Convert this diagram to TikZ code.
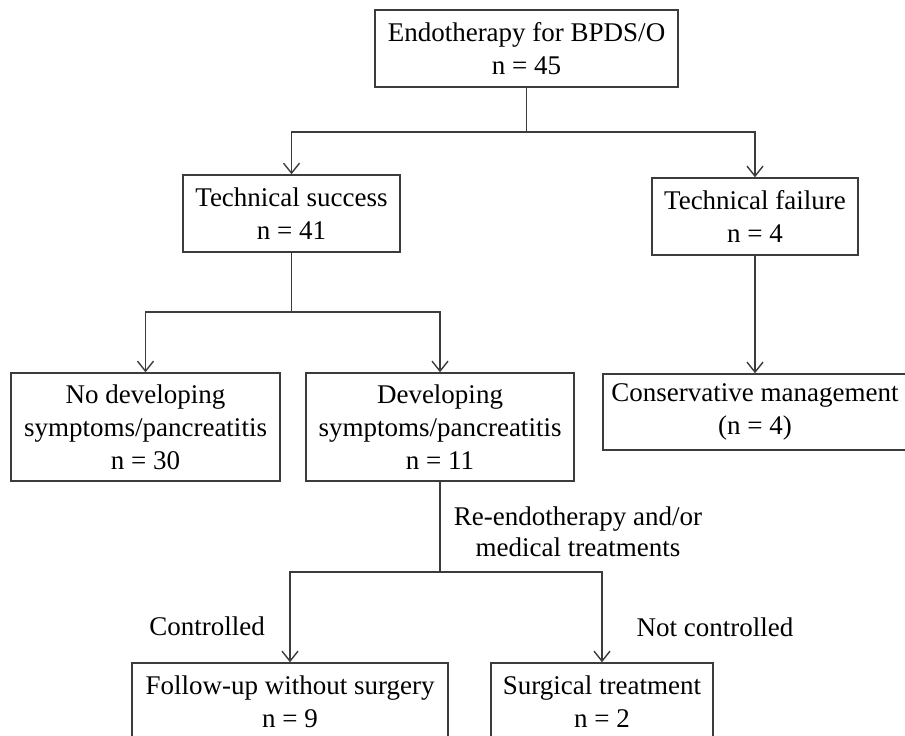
\documentclass[tikz,border=0pt]{standalone}
\usepackage{fontspec}
\setmainfont{Liberation Serif}
\usetikzlibrary{arrows.meta,positioning,calc}
\definecolor{linegray}{RGB}{60,60,60}

\begin{document}
\begin{tikzpicture}[
  x=1pt, y=-1pt,
  box/.style={rectangle, draw=linegray, line width=1.5pt, fill=white, inner sep=0pt,
              text centered, font=\fontsize{27}{33}\selectfont},
  lbl/.style={font=\fontsize{27}{31}\selectfont},
  line/.style={linegray, line width=1.6pt},
  arr/.style={-{Straight Barb[length=10pt,width=16pt]}, linegray, line width=1.4pt},
  every node/.style={align=center}
]
\useasboundingbox (0,0) rectangle (905,736);

\node[box, minimum width=303pt, minimum height=77pt] (top) at (526.5,48.5) {Endotherapy for BPDS/O\\n = 45};
\node[box, minimum width=217pt, minimum height=77pt] (succ) at (291.5,213.5) {Technical success\\n = 41};
\node[box, minimum width=206pt, minimum height=77pt] (fail) at (755,216.5) {Technical failure\\n = 4};
\node[box, minimum width=269pt, minimum height=108pt] (nosym) at (145.5,427) {No developing\\symptoms/pancreatitis\\n = 30};
\node[box, minimum width=268pt, minimum height=108pt] (sym) at (440,427) {Developing\\symptoms/pancreatitis\\n = 11};
\node[box, minimum width=304pt, minimum height=76pt] (cons) at (755,412) {Conservative management\\(n = 4)};
\node[box, minimum width=316pt, minimum height=78pt] (fol) at (290,702) {Follow-up without surgery\\n = 9};
\node[box, minimum width=222pt, minimum height=78pt] (surg) at (602,702) {Surgical treatment\\n = 2};

\node[lbl] (retx) at (578,532) {Re-endotherapy and/or\\medical treatments};
\node[lbl] (ctl) at (207,626) {Controlled};
\node[lbl] (nctl) at (715,627) {Not controlled};

\coordinate (j1) at (526.5,132);
\coordinate (j2) at (291.5,312);
\coordinate (j3) at (440,572);

\draw[line](top.south)--(j1);
\draw[arr](j1)-|(succ.north);
\draw[arr](j1)-|(fail.north);
\draw[arr](fail)--(cons);
\draw[line](succ.south)--(j2);
\draw[arr](j2)-|(nosym.north);
\draw[arr](j2)-|(sym.north);
\draw[line](sym.south)--(j3);
\draw[arr](j3)-|(fol.north);
\draw[arr](j3)-|(surg.north);
\end{tikzpicture}
\end{document}
